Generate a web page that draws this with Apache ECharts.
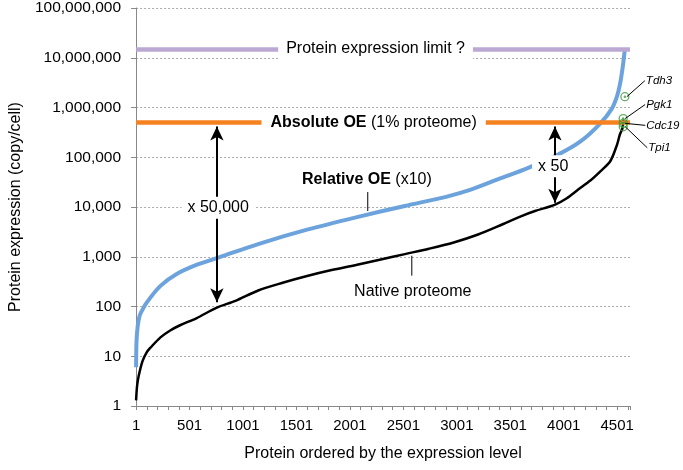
<!DOCTYPE html>
<html><head><meta charset="utf-8">
<script src="https://cdn.jsdelivr.net/npm/echarts@6/dist/echarts.min.js"></script>
<style>html,body{margin:0;padding:0;background:#fff}#c{width:683px;height:470px}</style>
</head><body><div id="c"></div>
<script>
// Native proteome (black), rank vs copies/cell
const nativeRank   = [1, 10, 25, 61, 100, 137, 229, 320, 412, 564, 756, 930, 1143, 1372, 1600, 1830, 2058, 2290, 2515, 2740, 2972, 3200, 3430, 3600, 3732, 3915, 4030, 4131, 4250, 4344, 4436, 4500, 4527, 4550, 4558];
const nativeCopies = [1.3, 2.5, 4, 8, 12, 15, 24, 33, 42, 58, 95, 130, 210, 300, 410, 540, 680, 880, 1130, 1450, 1940, 2800, 4500, 6500, 8300, 11000, 15000, 22000, 34000, 52000, 83000, 180000, 290000, 380000, 560000];
// Relative OE x10 (blue)
const relativeRank   = [1, 5, 16, 30, 46, 100, 229, 381, 577, 777, 1143, 1600, 2058, 2515, 2900, 3125, 3400, 3658, 3948, 4161, 4344, 4451, 4500, 4527, 4555, 4573];
const relativeCopies = [6, 20, 40, 60, 75, 120, 260, 450, 700, 970, 1800, 3500, 6200, 10500, 16000, 22000, 37000, 60000, 113000, 210000, 480000, 950000, 1700000, 2900000, 7000000, 15000000];
// Reference levels
const absoluteOE = 500000;
const expressionLimit = 15000000;
// Highlighted proteins
const highlightNames  = ['Tdh3', 'Pgk1', 'Cdc19', 'Tpi1'];
const highlightRank   = [4573, 4557, 4558, 4558];
const highlightCopies = [1650000, 600000, 480000, 410000];
// Fold-change arrows
const arrowLabels = ['x 50,000', 'x 50'];
const arrowRank   = [757, 3919];
const arrowTop    = [417000, 417000];
const arrowBottom = [122, 12200];
const xMax = 4620, xStep = 500, yMin = 1, yMax = 100000000;

const FONT = '"Liberation Sans", Arial, sans-serif';
const chart = echarts.init(document.getElementById('c'), null, {renderer: 'canvas'});
const toXY = (r, v) => [r - 1, v];

chart.setOption({
  animation: false,
  grid: {left: 124, right: 53, top: 6, bottom: 64},
  xAxis: {
    type: 'value', min: 0, max: xMax, interval: xStep,
    name: 'Protein ordered by the expression level', nameLocation: 'middle', nameGap: 40,
    nameTextStyle: {fontFamily: FONT, fontSize: 16, color: '#000'},
    axisLine: {lineStyle: {color: '#888', width: 1}},
    axisTick: {show: true, length: 4, lineStyle: {color: '#888'}},
    minorTick: {show: true, splitNumber: 5, length: 4, lineStyle: {color: '#888'}},
    axisLabel: {fontFamily: FONT, fontSize: 15, color: '#000', margin: 12, showMaxLabel: false,
      formatter: v => (v >= xMax ? '' : String(v + 1))},
    splitLine: {show: false}
  },
  yAxis: {
    type: 'log', logBase: 10, min: yMin, max: yMax,
    name: 'Protein expression (copy/cell)', nameLocation: 'middle', nameGap: 108,
    nameTextStyle: {fontFamily: FONT, fontSize: 16, color: '#000'},
    axisLine: {show: true, lineStyle: {color: '#888', width: 1}},
    axisTick: {show: true, length: 5, lineStyle: {color: '#888'}},
    axisLabel: {fontFamily: FONT, fontSize: 15.5, color: '#000', margin: 15,
      formatter: v => Math.round(v).toLocaleString('en-US')},
    splitLine: {show: true, lineStyle: {color: '#aaa', type: [2, 2], width: 1}}
  },
  series: [
    {type: 'line', name: 'Relative OE', data: relativeRank.map((r, i) => toXY(r, relativeCopies[i])),
      showSymbol: false, smooth: 0.3, lineStyle: {color: '#6ca3dc', width: 4}, z: 3, silent: true},
    {type: 'line', name: 'Native proteome', data: nativeRank.map((r, i) => toXY(r, nativeCopies[i])),
      showSymbol: false, smooth: 0.3, lineStyle: {color: '#000', width: 2.5}, z: 4, silent: true},
    {type: 'line', name: 'levels', data: [], silent: true, z: 5,
      markLine: {silent: true, symbol: ['none', 'none'], label: {show: false},
        data: [
          {yAxis: expressionLimit, lineStyle: {color: '#bba9d4', width: 4.5, type: 'solid'}},
          {yAxis: absoluteOE, lineStyle: {color: '#f5821f', width: 4.5, type: 'solid'}}
        ]}},
    {type: 'line', name: 'arrows', data: [], silent: true, z: 6,
      markLine: {silent: true, symbol: ['arrow', 'arrow'], symbolSize: [10, 14], label: {show: false},
        lineStyle: {color: '#000', width: 2, type: 'solid'},
        data: arrowRank.map((r, i) => [{coord: toXY(r, arrowTop[i])}, {coord: toXY(r, arrowBottom[i])}])}},
    {type: 'scatter', name: 'highlight', data: highlightRank.map((r, i) => toXY(r, highlightCopies[i])),
      symbol: 'circle', symbolSize: 8, itemStyle: {color: 'rgba(255,255,255,0)', borderColor: '#3c9a3c', borderWidth: 1.3}, z: 8, silent: true},
    {type: 'scatter', name: 'highlight-dot', data: highlightRank.map((r, i) => toXY(r, highlightCopies[i])),
      symbol: 'circle', symbolSize: 2.5, itemStyle: {color: '#3c9a3c'}, z: 8, silent: true}
  ]
});

function px(r, v) { return chart.convertToPixel({xAxisIndex: 0, yAxisIndex: 0}, toXY(r, v)); }
const g = [];
function label(text, r, v, rich, pad) {
  const p = px(r, v);
  g.push({type: 'text', x: p[0], y: p[1], z: 20,
    style: {text: text, fontFamily: FONT, fontSize: 16, fill: '#000', align: 'center', verticalAlign: 'middle',
      backgroundColor: '#fff', padding: pad || [3, 8], rich: rich || {}}});
}
const boldRich = {b: {fontFamily: FONT, fontSize: 16, fontWeight: 'bold', fill: '#000'}};
label('Protein expression limit ?', 2241, expressionLimit);
label('{b|Absolute OE} (1% proteome)', 2223, absoluteOE, boldRich, [3, 9]);
label(arrowLabels[0], 769, 9700, null, [3, 6]);
label(arrowLabels[1], 3879, 66000, null, [3, 1, 3, 6]);
// curve labels with pointer lines (no background)
function plain(text, r, v, rich) {
  const p = px(r, v);
  g.push({type: 'text', x: p[0], y: p[1], z: 20,
    style: {text: text, fontFamily: FONT, fontSize: 16, fill: '#000', align: 'center', verticalAlign: 'middle', rich: rich || {}}});
}
function seg(r1, v1, r2, v2) {
  const a = px(r1, v1), b = px(r2, v2);
  g.push({type: 'line', z: 20, shape: {x1: a[0], y1: a[1], x2: b[0], y2: b[1]}, style: {stroke: '#000', lineWidth: 1}});
}
plain('{b|Relative OE} (x10)', 2160, 36300, boldRich);
seg(2168, 19950, 2168, 8300);
plain('Native proteome', 2589, 200);
seg(2580, 1047, 2580, 417);
// highlighted protein names
const nameOffsets = [[21, -16], [23, -14], [23, 2], [25, 21]];
highlightNames.forEach((n, i) => {
  const p = px(highlightRank[i], highlightCopies[i]);
  const lx = p[0] + nameOffsets[i][0], ly = p[1] + nameOffsets[i][1];
  g.push({type: 'line', z: 20, shape: {x1: p[0] + 2, y1: p[1], x2: lx - 1, y2: ly}, style: {stroke: '#000', lineWidth: 1}});
  g.push({type: 'text', x: lx, y: ly, z: 20, style: {text: n, fontFamily: FONT, fontSize: 11.5, fontStyle: 'italic', fill: '#000', align: 'left', verticalAlign: 'middle'}});
});
chart.setOption({graphic: g});
</script></body></html>
